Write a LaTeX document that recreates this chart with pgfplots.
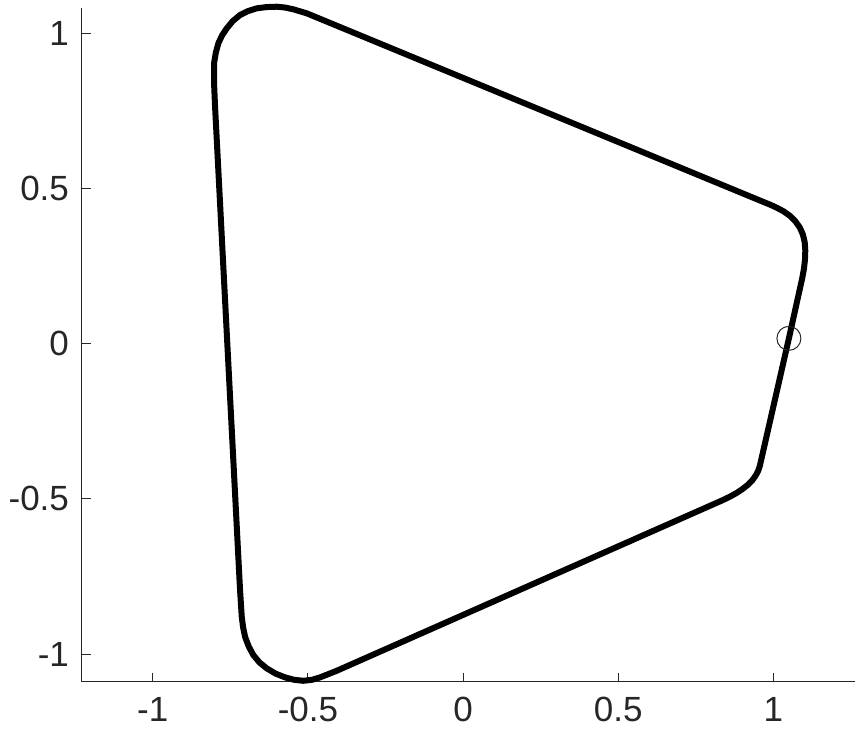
\documentclass[border=0pt]{standalone}
\usepackage{fontspec}
\setmainfont{Liberation Sans}
\usepackage{pgfplots}
\pgfplotsset{compat=1.18}
\usetikzlibrary{calc}
\definecolor{axgray}{RGB}{38,38,38}

\begin{document}
\begin{tikzpicture}
\begin{axis}[
    name=ax,
    scale only axis,
    width=386.5pt, height=337pt,
    xmin=-1.228, xmax=1.263,
    ymin=-1.090, ymax=1.082,
    enlargelimits=false,
    clip=false,
    axis lines=left,
    axis line style={-, draw=axgray, line width=0.5pt},
    tick align=inside,
    major tick length=4.5pt,
    tick style={draw=axgray, line width=0.5pt},
    xtick={-1,-0.5,0,0.5,1},
    ytick={-1,-0.5,0,0.5,1},
    xticklabels={-1,-0.5,0,0.5,1},
    yticklabels={-1,-0.5,0,0.5,1},
    tick label style={font=\fontsize{17.5}{20}\selectfont, text=axgray},
    xticklabel style={yshift=-4pt},
    yticklabel style={xshift=-3pt},
]
    % closed curve
    \addplot[black, line width=3pt, line join=round] coordinates {
        (1.0500, 0.0174)
        (1.0935, 0.2140)
        (1.0986, 0.2423)
        (1.1018, 0.2714)
        (1.1028, 0.3004)
        (1.1009, 0.3277)
        (1.0951, 0.3519)
        (1.0851, 0.3745)
        (1.0709, 0.3945)
        (1.0532, 0.4122)
        (1.0329, 0.4267)
        (1.0110, 0.4383)
        (0.9894, 0.4483)
        (0.9678, 0.4570)
        (-0.5037, 1.0648)
        (-0.5469, 1.0777)
        (-0.5740, 1.0835)
        (-0.6004, 1.0861)
        (-0.6330, 1.0850)
        (-0.6648, 1.0809)
        (-0.6930, 1.0720)
        (-0.7187, 1.0594)
        (-0.7420, 1.0400)
        (-0.7615, 1.0164)
        (-0.7770, 0.9930)
        (-0.7886, 0.9681)
        (-0.7970, 0.9370)
        (-0.8024, 0.9036)
        (-0.8024, 0.8392)
        (-0.7992, 0.7638)
        (-0.7187, -0.7936)
        (-0.7132, -0.8798)
        (-0.7090, -0.9130)
        (-0.7025, -0.9442)
        (-0.6910, -0.9750)
        (-0.6758, -1.0032)
        (-0.6560, -1.0270)
        (-0.6326, -1.0461)
        (-0.6040, -1.0630)
        (-0.5736, -1.0751)
        (-0.5440, -1.0830)
        (-0.5147, -1.0861)
        (-0.4870, -1.0830)
        (-0.4608, -1.0751)
        (-0.4070, -1.0538)
        (0.8347, -0.5049)
        (0.8601, -0.4927)
        (0.8824, -0.4802)
        (0.9017, -0.4673)
        (0.9188, -0.4538)
        (0.9323, -0.4396)
        (0.9430, -0.4247)
        (0.9510, -0.4096)
        (0.9562, -0.3941)
        (1.0500, 0.0174)
    };
    % marker
    \addplot[only marks, mark=o, mark size=6pt, mark options={draw=axgray, line width=0.5pt}] coordinates {(1.0500, 0.0174)};
\end{axis}
\pgfresetboundingbox
\path[use as bounding box] ($(ax.south west)+(-41pt,-28.5pt)$) rectangle ($(ax.north east)+(1pt,4pt)$);
\end{tikzpicture}
\end{document}
